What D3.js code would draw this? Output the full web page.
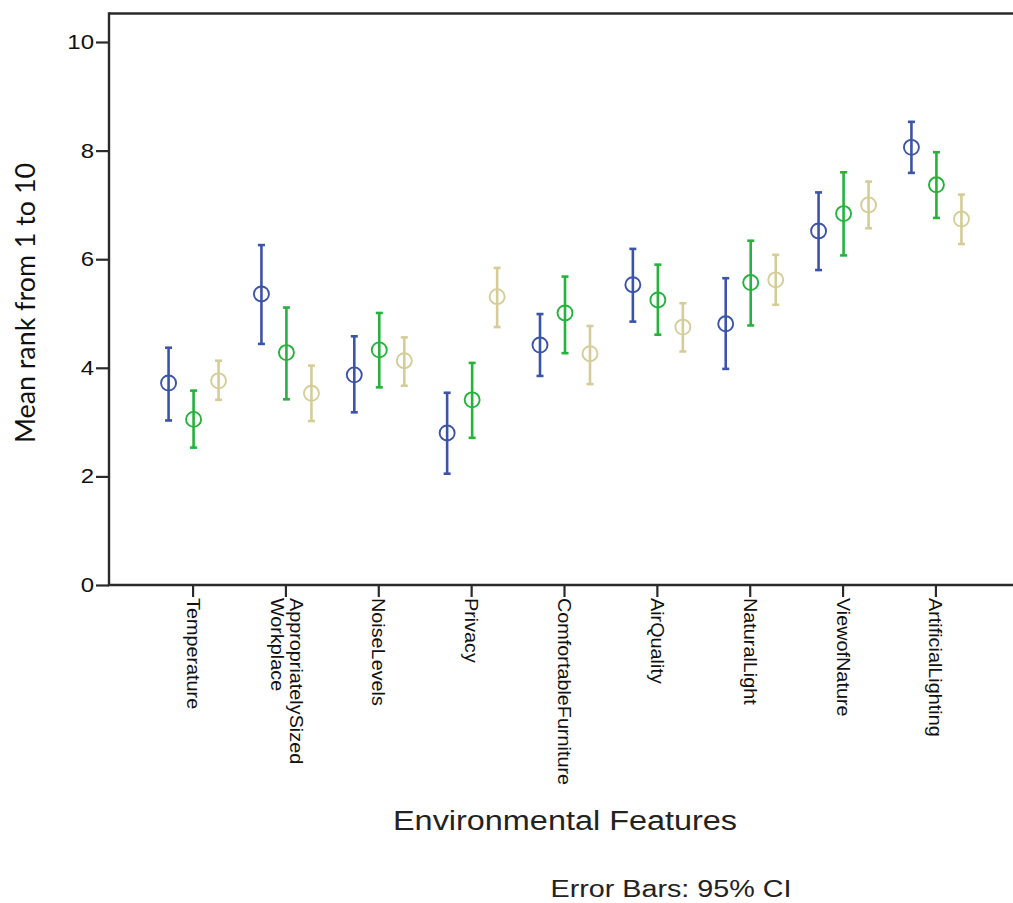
<!DOCTYPE html>
<html>
<head>
<meta charset="utf-8">
<script src="https://cdn.jsdelivr.net/npm/d3@7"></script>
<style>
  body { margin: 0; background: #fff; }
  svg { display: block; }
  .frame { stroke: #2a2a2a; stroke-width: 2.4; fill: none; }
  .axis text { font-family: "Liberation Sans", Arial, sans-serif; fill: #111; }
  .axis line { stroke: #2a2a2a; stroke-width: 2.2; }
</style>
</head>
<body>
<div id="chart"></div>
<script>
// categories on the x axis, '\n' splits a label into lines
var categories = ['Temperature', 'AppropriatelySized\nWorkplace', 'NoiseLevels', 'Privacy',
  'ComfortableFurniture', 'AirQuality', 'NaturalLight', 'ViewofNature', 'ArtificialLighting'];

var series = ['blue', 'green', 'tan'];

// mean and 95% CI per series
var blue_mean  = [3.72, 5.36, 3.87, 2.80, 4.42, 5.53, 4.81, 6.52, 8.06];
var blue_lo    = [3.03, 4.44, 3.18, 2.05, 3.85, 4.85, 3.98, 5.80, 7.59];
var blue_hi    = [4.37, 6.26, 4.58, 3.54, 4.99, 6.19, 5.65, 7.23, 8.53];

var green_mean = [3.05, 4.28, 4.33, 3.41, 5.01, 5.25, 5.57, 6.84, 7.37];
var green_lo   = [2.53, 3.42, 3.64, 2.71, 4.27, 4.61, 4.78, 6.07, 6.76];
var green_hi   = [3.58, 5.11, 5.01, 4.09, 5.68, 5.90, 6.34, 7.60, 7.97];

var tan_mean   = [3.76, 3.53, 4.13, 5.31, 4.26, 4.75, 5.62, 7.00, 6.74];
var tan_lo     = [3.41, 3.02, 3.67, 4.75, 3.70, 4.30, 5.16, 6.57, 6.28];
var tan_hi     = [4.13, 4.04, 4.56, 5.84, 4.77, 5.19, 6.08, 7.43, 7.19];

var y_ticks = [0, 2, 4, 6, 8, 10];

var colors = { blue: '#3b54a8', green: '#25b33c', tan: '#d5cd98' };

var W = 1013, H = 903;
var plot = { left: 109, right: 1019, top: 13.5, bottom: 585 };

var svg = d3.select('#chart').append('svg')
  .attr('width', W)
  .attr('height', H);

var x = d3.scalePoint()
  .domain(categories)
  .range([plot.left, plot.right])
  .padding(0.9);

var off = d3.scalePoint()
  .domain(series)
  .range([-24, 26]);

var y = d3.scaleLinear()
  .domain([0, 10])
  .range([plot.bottom, plot.bottom - 543]);

var table = {
  blue:  { m: blue_mean,  lo: blue_lo,  hi: blue_hi },
  green: { m: green_mean, lo: green_lo, hi: green_hi },
  tan:   { m: tan_mean,   lo: tan_lo,   hi: tan_hi }
};

var points = [];
series.forEach((s) => {
  categories.forEach((c, i) => {
    points.push({ s: s, c: c, m: table[s].m[i], lo: table[s].lo[i], hi: table[s].hi[i] });
  });
});

// stretch text along its reading direction, like the SPSS output
var stretch = (sel, k) => sel.each(function() {
  var n = this.getComputedTextLength();
  d3.select(this).attr('textLength', n * k).attr('lengthAdjust', 'spacingAndGlyphs');
});

// frame: top line and left axis
svg.append('line').attr('class', 'frame')
  .attr('x1', plot.left).attr('x2', W + 5)
  .attr('y1', plot.top).attr('y2', plot.top);

// y axis
var gy = svg.append('g')
  .attr('class', 'axis y-axis')
  .attr('transform', `translate(${plot.left},0)`)
  .call(d3.axisLeft(y).tickValues(y_ticks).tickSize(13).tickPadding(2));

gy.select('.domain').remove();
gy.selectAll('.tick text').style('font-size', '20px').call(stretch, 1.2);

svg.append('line').attr('class', 'frame')
  .attr('x1', plot.left).attr('x2', plot.left)
  .attr('y1', plot.top - 1.2).attr('y2', plot.bottom);

// x axis
var gx = svg.append('g')
  .attr('class', 'axis x-axis')
  .attr('transform', `translate(0,${plot.bottom})`)
  .call(d3.axisBottom(x).tickSize(12).tickFormat(''));

gx.select('.domain').remove();

svg.append('line').attr('class', 'frame')
  .attr('x1', plot.left - 1.2).attr('x2', W + 5)
  .attr('y1', plot.bottom).attr('y2', plot.bottom);

gx.selectAll('.tick').each(function(d) {
  var lines = d.split('\n');
  var t = d3.select(this).append('text')
    .attr('transform', 'translate(0,13) rotate(90)')
    .attr('text-anchor', 'start')
    .style('font-size', '18px');
  var first = lines.length > 1 ? -0.25 : 0.36;
  lines.forEach((l, i) => {
    t.append('tspan')
      .attr('x', 0)
      .attr('y', 0)
      .attr('dy', `${first + i * 1.1}em`)
      .text(l);
  });
  t.selectAll('tspan').call(stretch, 1.1);
});

// error bars
var g = svg.append('g').attr('class', 'errorbar-graph');

var bar = g.selectAll('g.bar')
  .data(points).enter()
  .append('g')
  .attr('class', (d) => `bar ${d.s}`)
  .attr('transform', (d) => `translate(${x(d.c) + off(d.s)},0)`);

bar.append('line')
  .attr('y1', (d) => y(d.lo))
  .attr('y2', (d) => y(d.hi))
  .style('stroke', (d) => colors[d.s])
  .style('stroke-width', 2.6);

['lo', 'hi'].forEach((k) => {
  bar.append('line')
    .attr('x1', -3.5).attr('x2', 3.5)
    .attr('y1', (d) => y(d[k]))
    .attr('y2', (d) => y(d[k]))
    .style('stroke', (d) => colors[d.s])
    .style('stroke-width', 2.6);
});

bar.append('circle')
  .attr('cx', 0)
  .attr('cy', (d) => y(d.m))
  .attr('r', 7.5)
  .style('fill', 'none')
  .style('stroke', (d) => colors[d.s])
  .style('stroke-width', 1.9);

// titles
svg.append('text')
  .attr('transform', 'translate(35,303) rotate(-90)')
  .attr('text-anchor', 'middle')
  .style('font-family', 'Lato, "Open Sans", sans-serif')
  .style('font-size', '26px')
  .style('fill', '#111')
  .text('Mean rank from 1 to 10')
  .attr('textLength', 280)
  .attr('lengthAdjust', 'spacingAndGlyphs');

svg.append('text')
  .attr('x', 565).attr('y', 830)
  .attr('text-anchor', 'middle')
  .style('font-family', '"Liberation Sans", Arial, sans-serif')
  .style('font-size', '27px')
  .style('fill', '#222')
  .text('Environmental Features')
  .attr('textLength', 344)
  .attr('lengthAdjust', 'spacingAndGlyphs');

svg.append('text')
  .attr('x', 671).attr('y', 897)
  .attr('text-anchor', 'middle')
  .style('font-family', '"Liberation Sans", Arial, sans-serif')
  .style('font-size', '23px')
  .style('fill', '#222')
  .text('Error Bars: 95% CI')
  .attr('textLength', 241)
  .attr('lengthAdjust', 'spacingAndGlyphs');
</script>
</body>
</html>
